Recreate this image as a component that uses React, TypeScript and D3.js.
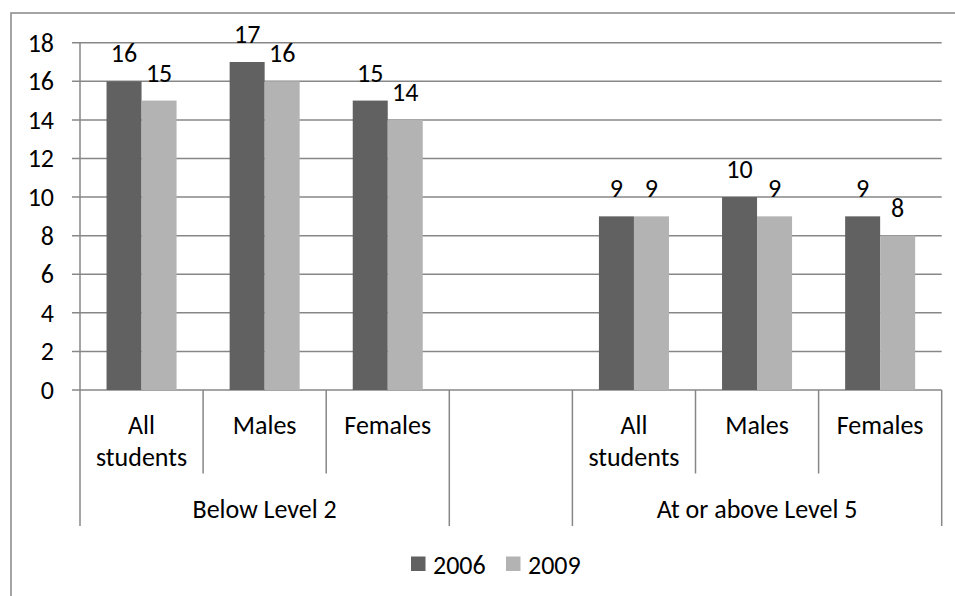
import React from "react";
import * as d3 from "d3";

const slotLabels: string[][] = [
  ["All", "students"],
  ["Males"],
  ["Females"],
  [],
  ["All", "students"],
  ["Males"],
  ["Females"],
];
const groups = [
  { label: "Below Level 2", start: 0, end: 3 },
  { label: "", start: 3, end: 4 },
  { label: "At or above Level 5", start: 4, end: 7 },
];
const seriesNames = ["2006", "2009"];
const values2006: (number | null)[] = [16, 17, 15, null, 9, 10, 9];
const values2009: (number | null)[] = [15, 16, 14, null, 9, 9, 8];
const yTicks = [0, 2, 4, 6, 8, 10, 12, 14, 16, 18];

const W = 955;
const H = 596;
const FONT = "Carlito, Lato, 'Open Sans', sans-serif";
const FS = 26;
const colors = ["#616161", "#b3b3b3"];
const lineColor = "#878787";

export default function App() {
  const left = 80;
  const right = 941.7;
  const yScale = d3.scaleLinear().domain([0, 18]).range([390, 42.7]);
  const x0 = d3
    .scaleBand<number>()
    .domain(d3.range(slotLabels.length))
    .range([left, right])
    .paddingInner(0)
    .paddingOuter(0);
  const x1 = d3
    .scaleBand<string>()
    .domain(seriesNames)
    .range([0, x0.bandwidth()])
    .paddingInner(0)
    .paddingOuter(0.758);
  const series = [values2006, values2009];
  const y0 = yScale(0);
  const innerBottom = 473.5;
  const outerBottom = 526;
  const step = x0.step();
  const edge = (i: number) => left + i * step;

  const groupEdges = new Set<number>();
  groups.forEach((g) => {
    groupEdges.add(g.start);
    groupEdges.add(g.end);
  });

  return (
    <svg
      width={W}
      height={H}
      style={{ position: "absolute", left: 0, top: 0, background: "#fff" }}
      fontFamily={FONT}
    >
      <rect x={11} y={13} width={960} height={600} fill="#fff" stroke={lineColor} strokeWidth={1.5} />
      {yTicks.map((t) => (
        <line
          key={"g" + t}
          x1={72}
          x2={right}
          y1={yScale(t)}
          y2={yScale(t)}
          stroke={lineColor}
          strokeWidth={1.5}
        />
      ))}
      {yTicks.map((t) => (
        <text
          key={"t" + t}
          x={54}
          y={yScale(t)}
          textAnchor="end"
          dominantBaseline="central"
          fontSize={FS}
          fill="#000"
        >
          {t}
        </text>
      ))}
      {series.map((vals, si) =>
        vals.map((v, i) =>
          v == null ? null : (
            <rect
              key={"b" + si + "-" + i}
              x={(x0(i) as number) + (x1(seriesNames[si]) as number)}
              y={yScale(v)}
              width={x1.bandwidth()}
              height={y0 - yScale(v)}
              fill={colors[si]}
            />
          )
        )
      )}
      {series.map((vals, si) =>
        vals.map((v, i) =>
          v == null ? null : (
            <text
              key={"l" + si + "-" + i}
              x={(x0(i) as number) + (x1(seriesNames[si]) as number) + x1.bandwidth() / 2}
              y={yScale(v) - 19}
              textAnchor="middle"
              fontSize={FS}
              fill="#000"
            >
              {v}
            </text>
          )
        )
      )}
      <line x1={left} x2={left} y1={yScale(18)} y2={outerBottom} stroke={lineColor} strokeWidth={1.5} />
      {d3.range(1, slotLabels.length + 1).map((i) => (
        <line
          key={"s" + i}
          x1={edge(i)}
          x2={edge(i)}
          y1={y0}
          y2={groupEdges.has(i) ? outerBottom : innerBottom}
          stroke={lineColor}
          strokeWidth={1.5}
        />
      ))}
      {slotLabels.map((lines, i) =>
        lines.map((ln, li) => (
          <text
            key={"c" + i + "-" + li}
            x={(x0(i) as number) + x0.bandwidth() / 2}
            y={433.5 + li * 32}
            textAnchor="middle"
            fontSize={FS}
            fill="#000"
          >
            {ln}
          </text>
        ))
      )}
      {groups.map((g, gi) => (
        <text
          key={"gr" + gi}
          x={(edge(g.start) + edge(g.end)) / 2}
          y={517.5}
          textAnchor="middle"
          fontSize={FS}
          fill="#000"
        >
          {g.label}
        </text>
      ))}
      {seriesNames.map((s, si) => (
        <g key={"lg" + s} transform={`translate(${411 + si * 95},0)`}>
          <rect x={0} y={556.5} width={14.5} height={14.5} fill={colors[si]} />
          <text x={22} y={573.5} fontSize={FS} fill="#000">
            {s}
          </text>
        </g>
      ))}
    </svg>
  );
}
